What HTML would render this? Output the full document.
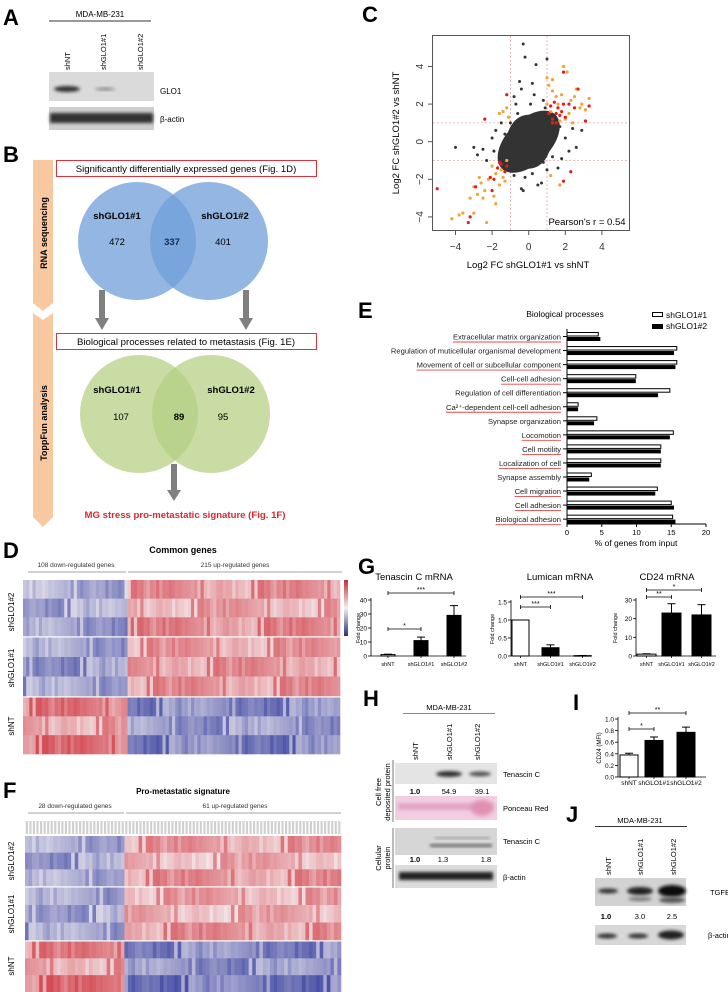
<!DOCTYPE html>
<html><head><meta charset="utf-8">
<style>
html,body{margin:0;padding:0;background:#fff;}
svg{display:block;font-family:"Liberation Sans",sans-serif;}
</style></head>
<body>
<svg id="fig" width="728" height="992" viewBox="0 0 728 992" xmlns="http://www.w3.org/2000/svg">
<defs>
<filter id="blur1" x="-20%" y="-50%" width="140%" height="200%"><feGaussianBlur stdDeviation="1.6"/></filter>
<filter id="blur2" x="-20%" y="-50%" width="140%" height="200%"><feGaussianBlur stdDeviation="2.5"/></filter>
<linearGradient id="cbar" x1="0" y1="0" x2="0" y2="1"><stop offset="0" stop-color="#c0303a"/><stop offset="0.5" stop-color="#f4f0f0"/><stop offset="1" stop-color="#2a307a"/></linearGradient>
</defs>

<!-- Panel A -->
<g>
<text x="3" y="25" font-size="22" font-weight="bold">A</text>
<text x="100" y="17" font-size="8" text-anchor="middle">MDA-MB-231</text>
<line x1="49" y1="21" x2="151" y2="21" stroke="#333" stroke-width="1"/>
<text transform="translate(70,70) rotate(-90)" font-size="7.5">shNT</text>
<text transform="translate(106,70) rotate(-90)" font-size="7.5">shGLO1#1</text>
<text transform="translate(143,70) rotate(-90)" font-size="7.5">shGLO1#2</text>
<rect x="49" y="72" width="105" height="29" fill="#dadada"/>
<ellipse cx="67" cy="89" rx="13" ry="3" fill="#333" filter="url(#blur1)"/>
<ellipse cx="105" cy="89" rx="10" ry="1.5" fill="#888" filter="url(#blur1)"/>
<text x="160" y="94" font-size="8">GLO1</text>
<rect x="49" y="107" width="105" height="23" fill="#cfcfcf"/>
<rect x="50" y="113" width="103" height="10" fill="#333" filter="url(#blur1)"/>
<text x="160" y="122" font-size="8">β-actin</text>
</g>

<!-- Panel B -->
<g>
<text x="3" y="162" font-size="22" font-weight="bold">B</text>
<polygon points="33,160 53,160 53,303 43,311 33,303" fill="#f8c9a0"/>
<polygon points="33,313 43,320 53,313 53,517 43,527 33,517" fill="#f8c9a0"/>
<text transform="translate(47,233) rotate(-90)" font-size="9" font-weight="bold" text-anchor="middle">RNA sequencing</text>
<text transform="translate(47,423) rotate(-90)" font-size="9" font-weight="bold" text-anchor="middle">ToppFun analysis</text>
<rect x="56.5" y="160.5" width="260" height="16" fill="none" stroke="#d9343c" stroke-width="1"/>
<text x="186" y="172" font-size="9.6" text-anchor="middle">Significantly differentially expressed genes (Fig. 1D)</text>
<circle cx="137" cy="241" r="59" fill="#6f9fd8" fill-opacity="0.75"/>
<circle cx="209" cy="241" r="59" fill="#6f9fd8" fill-opacity="0.75"/>
<text x="117" y="219" font-size="9.5" font-weight="bold" text-anchor="middle">shGLO1#1</text>
<text x="225" y="219" font-size="9.5" font-weight="bold" text-anchor="middle">shGLO1#2</text>
<text x="117" y="245" font-size="9.5" text-anchor="middle">472</text>
<text x="172" y="245" font-size="9.5" font-weight="bold" text-anchor="middle" fill="#1a2a50">337</text>
<text x="223" y="245" font-size="9.5" text-anchor="middle">401</text>
<rect x="99" y="290" width="6" height="28" fill="#808080"/><polygon points="95,318 109,318 102,330" fill="#808080"/>
<rect x="243" y="290" width="6" height="28" fill="#808080"/><polygon points="239,318 253,318 246,330" fill="#808080"/>
<rect x="56.5" y="333.5" width="260" height="16" fill="none" stroke="#d9343c" stroke-width="1"/>
<text x="186" y="345" font-size="9.6" text-anchor="middle">Biological processes related to metastasis (Fig. 1E)</text>
<circle cx="139" cy="414" r="59" fill="#b5d084" fill-opacity="0.75"/>
<circle cx="211" cy="414" r="59" fill="#b5d084" fill-opacity="0.75"/>
<text x="117" y="393" font-size="9.5" font-weight="bold" text-anchor="middle">shGLO1#1</text>
<text x="231" y="393" font-size="9.5" font-weight="bold" text-anchor="middle">shGLO1#2</text>
<text x="121" y="420" font-size="9.5" text-anchor="middle">107</text>
<text x="179" y="420" font-size="9.5" font-weight="bold" text-anchor="middle">89</text>
<text x="223" y="420" font-size="9.5" text-anchor="middle">95</text>
<rect x="171" y="464" width="6" height="26" fill="#808080"/><polygon points="167,490 181,490 174,501" fill="#808080"/>
<text x="185" y="518" font-size="9.6" font-weight="bold" fill="#e0262e" text-anchor="middle">MG stress pro-metastatic signature (Fig. 1F)</text>
</g>

<!-- Panel C -->
<g>
<text x="362" y="22" font-size="22" font-weight="bold">C</text>
<g id="scatter"></g>
<text x="528" y="268" font-size="9.5" text-anchor="middle">Log2 FC shGLO1#1 vs shNT</text>
<text transform="translate(399,133) rotate(-90)" font-size="9.5" text-anchor="middle">Log2 FC shGLO1#2 vs shNT</text>
<text x="587" y="225" font-size="9.5" text-anchor="middle">Pearson's r = 0.54</text>
</g>

<!-- Panel E -->
<g>
<text x="358" y="318" font-size="22" font-weight="bold">E</text>
<text x="565" y="317" font-size="8.5" text-anchor="middle">Biological processes</text>
<rect x="652.5" y="312.5" width="10" height="4" fill="#fff" stroke="#000" stroke-width="1"/>
<text x="666" y="318" font-size="8.5">shGLO1#1</text>
<rect x="652" y="324" width="11" height="5" fill="#000"/>
<text x="666" y="329" font-size="8.5">shGLO1#2</text>
<g id="barsE"></g>
<text x="636" y="546" font-size="8.5" text-anchor="middle">% of genes from input</text>
</g>

<!-- Panel D -->
<g>
<text x="3" y="558" font-size="22" font-weight="bold">D</text>
<text x="183" y="553" font-size="9" font-weight="bold" text-anchor="middle">Common genes</text>
<text x="76" y="567" font-size="6.5" fill="#333" text-anchor="middle">108 down-regulated genes</text>
<line x1="28" y1="572" x2="126" y2="572" stroke="#888" stroke-width="0.8"/>
<text x="235" y="567" font-size="6.5" fill="#333" text-anchor="middle">215 up-regulated genes</text>
<line x1="128" y1="572" x2="342" y2="572" stroke="#888" stroke-width="0.8"/>
<g id="heatD"></g>
<rect x="344" y="580" width="4" height="56" fill="url(#cbar)"/>
<text transform="translate(14,612) rotate(-90)" font-size="8" text-anchor="middle">shGLO1#2</text>
<text transform="translate(14,668) rotate(-90)" font-size="8" text-anchor="middle">shGLO1#1</text>
<text transform="translate(14,726) rotate(-90)" font-size="8" text-anchor="middle">shNT</text>
</g>

<!-- Panel F -->
<g>
<text x="3" y="798" font-size="22" font-weight="bold">F</text>
<text x="183" y="794" font-size="8" font-weight="bold" text-anchor="middle">Pro-metastatic signature</text>
<text x="75" y="808" font-size="6.5" fill="#333" text-anchor="middle">28 down-regulated genes</text>
<line x1="28" y1="813" x2="124" y2="813" stroke="#888" stroke-width="0.8"/>
<text x="235" y="808" font-size="6.5" fill="#333" text-anchor="middle">61 up-regulated genes</text>
<line x1="126" y1="813" x2="341" y2="813" stroke="#888" stroke-width="0.8"/>
<g id="heatF"></g>
<text transform="translate(14,861) rotate(-90)" font-size="8" text-anchor="middle">shGLO1#2</text>
<text transform="translate(14,914) rotate(-90)" font-size="8" text-anchor="middle">shGLO1#1</text>
<text transform="translate(14,966) rotate(-90)" font-size="8" text-anchor="middle">shNT</text>
</g>

<!-- Panel G -->
<g>
<text x="358" y="574" font-size="22" font-weight="bold">G</text>
<g id="barsG"></g>
</g>

<!-- Panel H -->
<g>
<text x="363" y="706" font-size="22" font-weight="bold">H</text>
<text x="449" y="710" font-size="7.5" text-anchor="middle">MDA-MB-231</text>
<line x1="403" y1="713.5" x2="495" y2="713.5" stroke="#888" stroke-width="1"/>
<text transform="translate(418,760) rotate(-90)" font-size="7.5">shNT</text>
<text transform="translate(452,760) rotate(-90)" font-size="7.5">shGLO1#1</text>
<text transform="translate(480,760) rotate(-90)" font-size="7.5">shGLO1#2</text>
<rect x="395" y="763" width="102" height="21" fill="#e4e4e4"/>
<ellipse cx="449" cy="774" rx="13" ry="3" fill="#333" filter="url(#blur1)"/>
<ellipse cx="480" cy="774" rx="11" ry="2.5" fill="#555" filter="url(#blur1)"/>
<text x="503" y="777" font-size="7.5">Tenascin C</text>
<text x="415" y="794" font-size="7.5" font-weight="bold" text-anchor="middle">1.0</text>
<text x="449" y="794" font-size="7.5" text-anchor="middle">54.9</text>
<text x="482" y="794" font-size="7.5" text-anchor="middle">39.1</text>
<rect x="395" y="796" width="102" height="24" fill="#f1cfe0"/>
<rect x="398" y="803" width="95" height="7" fill="#e4a6c2" filter="url(#blur1)"/>
<ellipse cx="482" cy="808" rx="11" ry="8" fill="#e090b0" filter="url(#blur2)"/>
<text x="503" y="811" font-size="7.5">Ponceau Red</text>
<rect x="395" y="828" width="102" height="27" fill="#d6d6d6"/>
<rect x="430" y="844" width="62" height="3" fill="#666" filter="url(#blur1)"/>
<rect x="435" y="837" width="55" height="2" fill="#999" filter="url(#blur1)"/>
<text x="503" y="844" font-size="7.5">Tenascin C</text>
<text x="415" y="862" font-size="7.5" font-weight="bold" text-anchor="middle">1.0</text>
<text x="443" y="862" font-size="7.5" text-anchor="middle">1.3</text>
<text x="486" y="862" font-size="7.5" text-anchor="middle">1.8</text>
<rect x="395" y="865" width="102" height="23" fill="#dcdcdc"/>
<rect x="399" y="872" width="94" height="8" fill="#222" filter="url(#blur1)"/>
<text x="503" y="880" font-size="7.5">β-actin</text>
<line x1="393" y1="760" x2="393" y2="822" stroke="#777" stroke-width="1"/>
<line x1="393" y1="828" x2="393" y2="888" stroke="#777" stroke-width="1"/>
<text transform="translate(381,792) rotate(-90)" font-size="7.5" text-anchor="middle">Cell free</text>
<text transform="translate(390,792) rotate(-90)" font-size="7.5" text-anchor="middle">deposited protein</text>
<text transform="translate(381,858) rotate(-90)" font-size="7.5" text-anchor="middle">Cellular</text>
<text transform="translate(390,858) rotate(-90)" font-size="7.5" text-anchor="middle">protein</text>
</g>

<!-- Panel I -->
<g>
<text x="573" y="710" font-size="22" font-weight="bold">I</text>
<g id="barsI"></g>
<text transform="translate(601,748) rotate(-90)" font-size="6" text-anchor="middle">CD24 (MFI)</text>
</g>

<!-- Panel J -->
<g>
<text x="566" y="822" font-size="22" font-weight="bold">J</text>
<text x="640" y="823" font-size="7.5" text-anchor="middle">MDA-MB-231</text>
<line x1="595" y1="826.5" x2="687" y2="826.5" stroke="#333" stroke-width="1"/>
<text transform="translate(611,875) rotate(-90)" font-size="7.5">shNT</text>
<text transform="translate(643,875) rotate(-90)" font-size="7.5">shGLO1#1</text>
<text transform="translate(676,875) rotate(-90)" font-size="7.5">shGLO1#2</text>
<rect x="595" y="878" width="91" height="28" fill="#d2d2d2"/>
<ellipse cx="608" cy="891" rx="10" ry="2.5" fill="#333" filter="url(#blur1)"/>
<ellipse cx="640" cy="891" rx="13" ry="4" fill="#222" filter="url(#blur1)"/>
<ellipse cx="672" cy="891" rx="14" ry="6" fill="#111" filter="url(#blur1)"/>
<ellipse cx="640" cy="899" rx="12" ry="2" fill="#777" filter="url(#blur1)"/>
<ellipse cx="672" cy="900" rx="13" ry="3" fill="#555" filter="url(#blur1)"/>
<text x="721" y="895" font-size="7.5" text-anchor="middle">TGFBI</text>
<text x="606" y="919" font-size="7.5" font-weight="bold" text-anchor="middle">1.0</text>
<text x="640" y="919" font-size="7.5" text-anchor="middle">3.0</text>
<text x="672" y="919" font-size="7.5" text-anchor="middle">2.5</text>
<rect x="595" y="925" width="91" height="20" fill="#d8d8d8"/>
<ellipse cx="607" cy="936" rx="10" ry="2.5" fill="#333" filter="url(#blur1)"/>
<ellipse cx="638" cy="936" rx="10" ry="2.5" fill="#333" filter="url(#blur1)"/>
<ellipse cx="671" cy="935" rx="13" ry="4.5" fill="#222" filter="url(#blur1)"/>
<text x="708" y="938" font-size="7.5">β-actin</text>
</g>
</svg>

<script>
const NS = "http://www.w3.org/2000/svg";
// ---------- Panel C data ----------
const cTicks = [-4, -2, 0, 2, 4];
const cOrange = [[1.3,3.3],[1.9,4.0],[2.1,3.7],[1.1,3.0],[1.3,2.7],[2.6,2.8],[2.5,2.4],[2.9,2.0],[3.3,2.3],[3.1,1.7],[2.2,1.5],[1.5,2.4],[1.0,2.0],[2.0,1.2],[2.4,1.0],[1.7,1.1],[1.2,1.6],[-1.2,1.8],[-1.4,1.6],[-1.6,1.5],[-1.1,1.3],[-1.5,-1.5],[-1.8,-1.7],[-2.0,-1.3],[-2.2,-2.0],[-2.6,-2.2],[-3.0,-2.4],[-2.8,-2.8],[-2.4,-2.6],[-1.9,-2.9],[-1.3,-2.1],[-3.2,-3.0],[-2.5,-3.0],[-3.6,-3.8],[-3.8,-3.9],[-4.2,-4.1],[-3.0,-3.8],[-1.8,-3.3],[-2.3,-4.3],[-1.2,-1.0],[-1.6,-2.3],[1.7,-2.3],[1.2,-1.8],[1.0,3.4],[1.6,2.0],[2.8,1.8],[2.3,2.2],[1.8,2.5],[-1.4,-1.9],[-2.7,-1.9]];
const cRed = [[1.9,3.7],[2.7,2.8],[3.3,1.9],[3.1,1.1],[2.5,1.8],[1.8,1.6],[1.3,1.2],[1.6,1.8],[2.2,2.0],[1.1,1.5],[1.4,2.1],[2.0,1.3],[1.7,1.4],[1.2,1.9],[1.5,1.5],[1.3,1.0],[1.9,2.0],[-1.2,2.5],[-2.4,1.2],[-1.5,-1.2],[-1.7,-1.4],[-1.3,-1.6],[-2.1,-1.9],[-2.9,-2.4],[-1.9,-2.0],[-2.0,-2.6],[-5.0,-2.5],[-3.3,-4.3],[-3.2,-4.0],[1.9,-2.1],[2.3,-1.6],[1.5,1.0],[-1.6,-1.1],[-1.2,-1.3]];
const cDark = [[-0.3,5.2],[-0.2,4.5],[0.4,4.1],[1.0,4.4],[-0.5,3.2],[-0.4,2.8],[0.2,3.1],[-0.8,2.4],[0.8,2.2],[-4.0,-0.3],[-3.0,-0.3],[-2.8,-0.7],[-2.5,-0.4],[-2.3,-1.0],[-2.0,0.2],[-1.8,0.6],[-1.5,1.0],[-0.7,2.0],[0.3,2.5],[0.9,1.8],[2.4,0.7],[2.9,0.6],[2.6,-0.3],[2.2,-0.5],[1.8,-0.9],[1.6,-1.4],[1.0,-1.5],[0.5,-2.3],[0.7,-2.2],[-0.4,-2.5],[-0.3,-2.6],[-0.8,-1.8],[-1.1,-0.6],[1.2,0.6],[-1.3,0.4],[0.2,-1.7],[1.5,0.3],[-0.6,1.5],[0.5,1.5],[-1.9,-0.5],[2.0,0.2],[1.3,-0.8],[-1.0,1.0],[1.1,0.2],[-0.9,-1.2],[0.8,-1.1],[-1.4,-0.2],[1.7,0.8],[0.1,2.0],[-0.2,-1.9]];

const cx = v => 528.7 + 18.3 * v;
const cy = v => 141.7 - 18.8 * v;
(function(){
  const g = document.getElementById('scatter');
  function mk(tag, at){ const e = document.createElementNS(NS, tag); for (const k in at) e.setAttribute(k, at[k]); g.appendChild(e); return e; }
  const box = mk('rect', {x:432.5, y:35.5, width:197, height:195, fill:'#fff', stroke:'#555', 'stroke-width':1});
  
  
  [-1, 1].forEach(v => {
    mk('line', {x1:cx(v), y1:36, x2:cx(v), y2:230, stroke:'#e6a6a6', 'stroke-dasharray':'2,2', 'stroke-width':0.8});
    mk('line', {x1:433, y1:cy(v), x2:629, y2:cy(v), stroke:'#e6a6a6', 'stroke-dasharray':'2,2', 'stroke-width':0.8});
  });
  // dense core of points
  mk('ellipse', {cx:cx(0), cy:cy(0), rx:38, ry:22, transform:`rotate(-45 ${cx(0)} ${cy(0)})`, fill:'#333'});
  mk('ellipse', {cx:cx(0), cy:cy(0), rx:22, ry:27, fill:'#333'});
  cDark.forEach(p => { const c = mk('circle', {cx:cx(p[0]), cy:cy(p[1]), r:1.5, fill:'#333'});   });
  cOrange.forEach(p => { const c = mk('circle', {cx:cx(p[0]), cy:cy(p[1]), r:1.6, fill:'#f2a33a'});   });
  cRed.forEach(p => { const c = mk('circle', {cx:cx(p[0]), cy:cy(p[1]), r:1.6, fill:'#e01e1e'});   });
  cTicks.forEach(t => {
    mk('line', {x1:cx(t), y1:231, x2:cx(t), y2:235, stroke:'#555'});
    const tx = mk('text', {x:cx(t), y:250, 'font-size':10, 'text-anchor':'middle', fill:'#333'});
    tx.textContent = t < 0 ? '\u2212' + Math.abs(t) : String(t);
    
    
    mk('line', {x1:428, y1:cy(t), x2:432, y2:cy(t), stroke:'#555'});
    const ty = mk('text', {transform:`translate(423,${cy(t)}) rotate(-90)`, 'font-size':10, 'text-anchor':'middle', fill:'#333'});
    ty.textContent = t < 0 ? '\u2212' + Math.abs(t) : String(t);
    
    
  });
})();

// ---------- Panel E data ----------
const eProcesses = ["Extracellular matrix organization","Regulation of muticellular organismal development","Movement of cell or subcellular component","Cell-cell adhesion","Regulation of cell differentiation","Ca²⁺-dependent cell-cell adhesion","Synapse organization","Locomotion","Cell motility","Localization of cell","Synapse assembly","Cell migration","Cell adhesion","Biological adhesion"];
const eShGLO1_1 = [4.5, 15.8, 15.8, 9.9, 14.8, 1.6, 4.3, 15.3, 13.5, 13.5, 3.5, 13.0, 15.0, 15.2];
const eShGLO1_2 = [4.8, 15.4, 15.6, 9.9, 13.1, 1.6, 3.9, 14.8, 13.5, 13.5, 3.2, 12.7, 15.4, 15.6];
const eUnderlined = [1,0,1,1,0,1,0,1,1,1,0,1,1,1];
const eTicks = [0, 5, 10, 15, 20];
const ex = v => 567 + 6.95 * v;
const eRowY = i => 332 + i * 14.05;
(function(){
  const g = document.getElementById('barsE');
  function mk(tag, at){ const e = document.createElementNS(NS, tag); for (const k in at) e.setAttribute(k, at[k]); g.appendChild(e); return e; }
  eProcesses.forEach((name, i) => {
    const y = eRowY(i);
    const b1 = mk('rect', {x:ex(0), y:y+0.5, width:ex(eShGLO1_1[i]) - ex(0), height:3.5, fill:'#fff', stroke:'#000', 'stroke-width':1});
    
    
    const b2 = mk('rect', {x:ex(0), y:y+5, width:ex(eShGLO1_2[i]) - ex(0), height:4, fill:'#000'});
    
    
    mk('line', {x1:563, y1:y+4.5, x2:567, y2:y+4.5, stroke:'#000'});
    const t = mk('text', {x:561, y:y+7.5, 'font-size':7.6, 'text-anchor':'end', fill:'#222'});
    t.textContent = name;
    
    
    if (eUnderlined[i]) {
      const w = t.getComputedTextLength ? t.getComputedTextLength() : name.length * 4;
      mk('line', {x1:561 - w, y1:y+10, x2:561, y2:y+10, stroke:'#e04848', 'stroke-width':0.9});
    }
  });
  mk('line', {x1:567, y1:329, x2:567, y2:524, stroke:'#000'});
  mk('line', {x1:567, y1:524, x2:ex(20), y2:524, stroke:'#000'});
  eTicks.forEach(t => {
    mk('line', {x1:ex(t), y1:524, x2:ex(t), y2:527, stroke:'#000'});
    const tx = mk('text', {x:ex(t), y:535, 'font-size':7.6, 'text-anchor':'middle'});
    tx.textContent = t;
    
    
  });
})();

// ---------- Heatmap data ----------
const heatNoise = [0.3,-0.2,0.5,-0.4,0.1,0.6,-0.5,0.2,-0.1,0.4,-0.6,0.0,0.35,-0.3,0.55,-0.15,0.25,-0.45,0.15,0.45,-0.25,0.05,-0.55,0.3,0.6,-0.35,0.1,-0.05,0.4,-0.2,0.2,-0.6,0.5,-0.1,0.0,0.35,-0.4,0.15,0.55,-0.3];
const dDownMeans = [[-0.9,-1.0,-1.1],[-1.1,-1.2,-1.1],[1.4,1.0,1.5]];
const dUpMeans = [[1.1,0.9,1.2],[1.0,1.1,1.1],[-1.4,-1.2,-1.5]];
const dGroupCols = [33, 67];
const fDownMeans = [[-1.0,-1.1,-1.0],[-1.1,-1.0,-1.1],[1.3,1.0,1.5]];
const fUpMeans = [[1.0,0.8,1.1],[0.9,0.8,1.1],[-1.4,-1.3,-1.6]];
const fGroupCols = [28, 61];

function heatColor(v){
  const t = Math.max(-1, Math.min(1, v / 2.3));
  const w = [246,242,244];
  const hi = t > 0 ? [205,45,55] : [50,58,155];
  const a = Math.abs(t) * 0.92;
  return `rgb(${Math.round(w[0]+(hi[0]-w[0])*a)},${Math.round(w[1]+(hi[1]-w[1])*a)},${Math.round(w[2]+(hi[2]-w[2])*a)})`;
}
function drawHeat(gid, x0, x1, blockYs, downMeans, upMeans, groupCols, namePrefix){
  const g = document.getElementById(gid);
  const nCols = groupCols[0] + groupCols[1];
  const cw = (x1 - x0) / nCols;
  blockYs.forEach((bb, b) => {
    const rh = (bb[1] - bb[0]) / 3;
    for (let r = 0; r < 3; r++) {
      for (let c = 0; c < nCols; c++) {
        const down = c < groupCols[0];
        let mean = down ? downMeans[b][r] : upMeans[b][r];
        const v = mean + heatNoise[(c * 7 + r * 13 + b * 5) % heatNoise.length] * 1.0;
        const e = document.createElementNS(NS, 'rect');
        e.setAttribute('x', (x0 + c * cw).toFixed(2));
        e.setAttribute('y', (bb[0] + r * rh).toFixed(2));
        e.setAttribute('width', (cw + 0.3).toFixed(2));
        e.setAttribute('height', (rh + 0.3).toFixed(2));
        e.setAttribute('fill', heatColor(v));
        
        
        g.appendChild(e);
      }
    }
  });
}
drawHeat('heatD', 23, 340, [[580,636],[637.5,696],[697.5,754]], dDownMeans, dUpMeans, dGroupCols, 'common-genes-heatmap');
drawHeat('heatF', 25, 341, [[836,886],[887.5,940],[941.5,992]], fDownMeans, fUpMeans, fGroupCols, 'signature-heatmap');
(function(){
  const g = document.getElementById('heatF');
  const n = fGroupCols[0] + fGroupCols[1];
  const cw = 316 / n;
  for (let c = 0; c < n; c++) {
    const e = document.createElementNS(NS, 'rect');
    e.setAttribute('x', (25 + c * cw + 0.8).toFixed(2));
    e.setAttribute('y', 821);
    e.setAttribute('width', (cw - 1.4).toFixed(2));
    e.setAttribute('height', 13);
    e.setAttribute('fill', '#d0d0d0');
    g.appendChild(e);
  }
})();

// ---------- Panel G data ----------
const gGroups = ["shNT", "shGLO1#1", "shGLO1#2"];
const gTitles = ["Tenascin C mRNA", "Lumican mRNA", "CD24 mRNA"];
const gTenascin = [1, 11, 29];
const gTenascinErr = [0.3, 2.5, 7];
const gLumican = [1.0, 0.23, 0.01];
const gLumicanErr = [0, 0.08, 0.005];
const gCD24 = [1, 23, 22];
const gCD24Err = [0.2, 5, 5.5];
const gTenascinTicks = [0, 10, 20, 30, 40];
const gLumicanTicks = [0, 0.5, 1.0, 1.5];
const gCD24Ticks = [0, 10, 20, 30];
const gLumicanTickLabels = ["0.0", "0.5", "1.0", "1.5"];

function barChart(gid, cfg){
  const g = document.getElementById(gid);
  function mk(tag, at){ const e = document.createElementNS(NS, tag); for (const k in at) e.setAttribute(k, at[k]); g.appendChild(e); return e; }
  const y = v => cfg.y0 - v * (cfg.y0 - cfg.yTop) / cfg.vTop;
  mk('line', {x1:cfg.ax, y1:y(cfg.ticks[cfg.ticks.length-1]) - 2, x2:cfg.ax, y2:cfg.y0, stroke:'#000', 'stroke-width':0.8});
  mk('line', {x1:cfg.ax, y1:cfg.y0, x2:cfg.axEnd, y2:cfg.y0, stroke:'#000', 'stroke-width':0.8});
  cfg.ticks.forEach((t, i) => {
    mk('line', {x1:cfg.ax - 3, y1:y(t), x2:cfg.ax, y2:y(t), stroke:'#000', 'stroke-width':0.8});
    const tx = mk('text', {x:cfg.ax - 4, y:y(t) + 2.5, 'font-size':cfg.fs, 'text-anchor':'end'});
    tx.textContent = cfg.tickLabels ? cfg.tickLabels[i] : t;
    
    
  });
  cfg.values.forEach((v, i) => {
    const top = y(v + cfg.err[i]);
    mk('line', {x1:cfg.bx[i] + cfg.bw/2, y1:top, x2:cfg.bx[i] + cfg.bw/2, y2:y(v), stroke:'#000', 'stroke-width':1});
    mk('line', {x1:cfg.bx[i] + cfg.bw/2 - 4, y1:top, x2:cfg.bx[i] + cfg.bw/2 + 4, y2:top, stroke:'#000', 'stroke-width':1});
    const r = mk('rect', {x:cfg.bx[i], y:y(v), width:cfg.bw, height:Math.max(0.5, cfg.y0 - y(v)), fill:i === 0 ? '#fff' : '#000', stroke:'#000', 'stroke-width':1});
    
    
    mk('line', {x1:cfg.bx[i] + cfg.bw/2, y1:cfg.y0, x2:cfg.bx[i] + cfg.bw/2, y2:cfg.y0 + 2, stroke:'#000', 'stroke-width':0.8});
    const lb = mk('text', {x:cfg.bx[i] + cfg.bw/2, y:cfg.labY, 'font-size':cfg.labFs, 'text-anchor':'middle'});
    lb.textContent = gGroups[i];
    
    
  });
  cfg.sig.forEach(s => {
    const x1 = cfg.bx[s[0]] + cfg.bw/2, x2 = cfg.bx[s[1]] + cfg.bw/2;
    mk('line', {x1:x1, y1:s[2], x2:x2, y2:s[2], stroke:'#000', 'stroke-width':0.8});
    mk('line', {x1:x1, y1:s[2]-2, x2:x1, y2:s[2]+2, stroke:'#000', 'stroke-width':0.8});
    mk('line', {x1:x2, y1:s[2]-2, x2:x2, y2:s[2]+2, stroke:'#000', 'stroke-width':0.8});
    const t = mk('text', {x:(x1+x2)/2, y:s[2]-1, 'font-size':7, 'text-anchor':'middle'});
    t.textContent = s[3];
  });
  if (cfg.title) {
    const t = mk('text', {x:cfg.titleX, y:cfg.titleY, 'font-size':9.5, 'text-anchor':'middle'});
    t.textContent = cfg.title;
    
    
  }
  if (cfg.ylab) {
    const t = mk('text', {transform:`translate(${cfg.ylabX},${(cfg.y0 + cfg.yTop)/2}) rotate(-90)`, 'font-size':5.5, 'text-anchor':'middle'});
    t.textContent = cfg.ylab;
  }
}
barChart('barsG', {name:'tenascin', title:gTitles[0], titleX:414, titleY:580, ax:371, axEnd:466, y0:656, yTop:600, vTop:40, ticks:gTenascinTicks, values:gTenascin, err:gTenascinErr, bx:[381,414,447], bw:14, fs:6.5, labY:666, labFs:5.5, sig:[[0,2,593,'***'],[0,1,629,'*']], ylab:'Fold change', ylabX:360});
barChart('barsG', {name:'lumican', title:gTitles[1], titleX:560, titleY:580, ax:511, axEnd:592, y0:656, yTop:602, vTop:1.5, ticks:gLumicanTicks, tickLabels:gLumicanTickLabels, values:gLumican, err:gLumicanErr, bx:[512,542,574], bw:17, fs:6.5, labY:666, labFs:5.5, sig:[[0,2,597,'***'],[0,1,607,'***']], ylab:'Fold change', ylabX:494});
barChart('barsG', {name:'cd24', title:gTitles[2], titleX:667, titleY:580, ax:636, axEnd:716, y0:656, yTop:600, vTop:30, ticks:gCD24Ticks, values:gCD24, err:gCD24Err, bx:[637,662,692], bw:19, fs:6.5, labY:666, labFs:5.5, sig:[[0,1,597,'**'],[0,2,590,'*']], ylab:'Fold change', ylabX:617});

// ---------- Panel I data ----------
const iValues = [0.38, 0.63, 0.77];
const iErr = [0.03, 0.06, 0.09];
const iTicks = [0, 0.2, 0.4, 0.6, 0.8, 1.0];
const iTickLabels = ["0.0", "0.2", "0.4", "0.6", "0.8", "1.0"];
barChart('barsI', {name:'cd24-mfi', ax:618, axEnd:706, y0:777, yTop:719, vTop:1.0, ticks:iTicks, tickLabels:iTickLabels, values:iValues, err:iErr, bx:[620,645,677], bw:18, fs:6.5, labY:785, labFs:6.5, sig:[[0,2,713,'**'],[0,1,729,'*']]});
</script>
</body></html>
